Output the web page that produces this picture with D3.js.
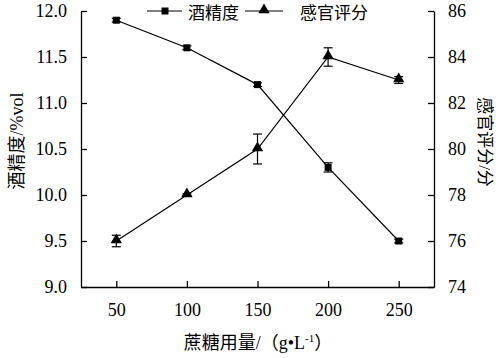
<!DOCTYPE html>
<html><head><meta charset="utf-8">
<script src="https://cdn.jsdelivr.net/npm/d3@7"></script>
<style>body{margin:0;background:#fff}</style>
</head><body>
<svg id="c" width="498" height="358"></svg>
<script>
const sucrose = [50, 100, 150, 200, 250];
const alcohol = [11.9, 11.6, 11.2, 10.3, 9.5];
const alcoholErr = [0.02, 0.02, 0.02, 0.05, 0.02];
const score = [76, 78, 80, 84, 83];
const scoreErr = [0.25, 0.05, 0.65, 0.4, 0.15];
const xTicks = [50, 100, 150, 200, 250];
const yLeftTicks = [9.0, 9.5, 10.0, 10.5, 11.0, 11.5, 12.0];
const yRightTicks = [74, 76, 78, 80, 82, 84, 86];

const svg = d3.select("#c");
const L = 81, R = 434, T = 11, B = 287;
const x = d3.scaleLinear().domain([25, 275]).range([L, R]);
const yL = d3.scaleLinear().domain([9, 12]).range([B, T]);
const yR = d3.scaleLinear().domain([74, 86]).range([B, T]);
const serif = "Liberation Serif";
const cjk = "Noto Sans CJK SC";

function styleAxis(g) {
  g.attr("font-family", serif).attr("font-size", 18);
  g.selectAll("path,line").attr("stroke", "#000").attr("stroke-width", 1.3);
  g.selectAll("text").attr("font-family", serif).attr("font-size", 18).attr("fill", "#000");
}
svg.append("g").attr("transform", `translate(0,${B})`)
  .call(d3.axisBottom(x).tickValues(xTicks).tickSize(-6).tickSizeOuter(0).tickPadding(16))
  .call(styleAxis);
svg.append("g").attr("transform", `translate(${L},0)`)
  .call(d3.axisLeft(yL).tickValues(yLeftTicks).tickFormat(d3.format(".1f")).tickSize(-6).tickSizeOuter(0).tickPadding(14))
  .call(styleAxis);
svg.append("g").attr("transform", `translate(${R},0)`)
  .call(d3.axisRight(yR).tickValues(yRightTicks).tickSize(-6).tickSizeOuter(0).tickPadding(14))
  .call(styleAxis);

const line = (ys, arr) => d3.line().x((d, i) => x(sucrose[i])).y((d) => ys(d))(arr);
svg.append("path").attr("d", line(yL, alcohol)).attr("fill", "none").attr("stroke", "#000").attr("stroke-width", 1.2);
svg.append("path").attr("d", line(yR, score)).attr("fill", "none").attr("stroke", "#000").attr("stroke-width", 1.2);

function errBars(ys, vals, errs) {
  vals.forEach((v, i) => {
    const cx = x(sucrose[i]);
    const y1 = ys(v - errs[i]), y2 = ys(v + errs[i]);
    const g = svg.append("g").attr("stroke", "#000").attr("stroke-width", 1.2);
    g.append("line").attr("x1", cx).attr("x2", cx).attr("y1", y1).attr("y2", y2);
    g.append("line").attr("x1", cx - 4.5).attr("x2", cx + 4.5).attr("y1", y1).attr("y2", y1);
    g.append("line").attr("x1", cx - 4.5).attr("x2", cx + 4.5).attr("y1", y2).attr("y2", y2);
  });
}
errBars(yL, alcohol, alcoholErr);
errBars(yR, score, scoreErr);

const sq = d3.symbol().type(d3.symbolSquare).size(49);
const tri = d3.symbol().type(d3.symbolTriangle).size(56);
svg.selectAll(".sq").data(alcohol).enter().append("path")
  .attr("d", sq).attr("transform", (d, i) => `translate(${x(sucrose[i])},${yL(d)})`).attr("fill", "#000");
svg.selectAll(".tri").data(score).enter().append("path")
  .attr("d", tri).attr("transform", (d, i) => `translate(${x(sucrose[i])},${yR(d) - 1})`).attr("fill", "#000");

// legend
const lg = svg.append("g");
lg.append("line").attr("x1", 147).attr("x2", 182).attr("y1", 11).attr("y2", 11).attr("stroke", "#000").attr("stroke-width", 1.2);
lg.append("path").attr("d", sq).attr("transform", "translate(165,11)").attr("fill", "#000");
lg.append("text").attr("x", 188).attr("y", 19).text("酒精度").attr("font-family", cjk).attr("font-size", 17);
lg.append("line").attr("x1", 245).attr("x2", 283).attr("y1", 11).attr("y2", 11).attr("stroke", "#000").attr("stroke-width", 1.2);
lg.append("path").attr("d", tri).attr("transform", "translate(264,10)").attr("fill", "#000");
lg.append("text").attr("x", 300).attr("y", 19).text("感官评分").attr("font-family", cjk).attr("font-size", 17);

// axis titles
const yt = svg.append("text").attr("transform", "translate(23,141) rotate(-90)").attr("text-anchor", "middle")
  .attr("font-size", 18);
yt.append("tspan").attr("font-family", cjk).text("酒精度");
yt.append("tspan").attr("font-family", serif).text("/%vol");
const rt = svg.append("text").attr("transform", "translate(479,142) rotate(90)").attr("text-anchor", "middle")
  .attr("font-size", 17);
rt.append("tspan").attr("font-family", cjk).text("感官评分");
rt.append("tspan").attr("font-family", serif).text("/");
rt.append("tspan").attr("font-family", cjk).text("分");
const xt = svg.append("text").attr("x", 258).attr("y", 349).attr("text-anchor", "middle").attr("font-size", 18);
xt.append("tspan").attr("font-family", cjk).text("蔗糖用量");
xt.append("tspan").attr("font-family", serif).text("/");
xt.append("tspan").attr("font-family", cjk).text("（");
xt.append("tspan").attr("font-family", serif).text("g•L");
xt.append("tspan").attr("font-family", serif).attr("dy", -7).attr("font-size", 11).text("-1");
xt.append("tspan").attr("font-family", cjk).attr("dy", 7).text("）");
</script>
</body></html>
